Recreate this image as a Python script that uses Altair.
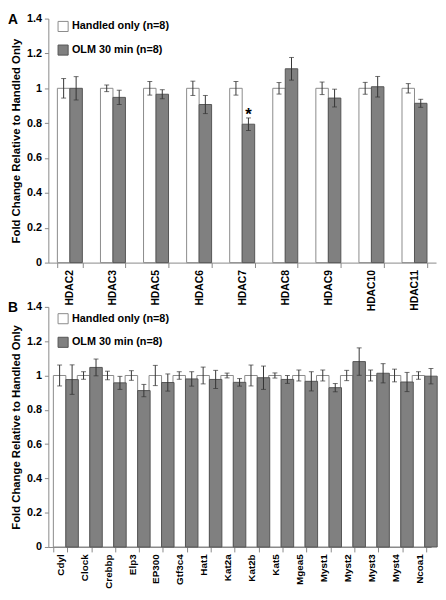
import altair as alt
import pandas as pd

# ---------------- data ----------------
groups = ["Handled only (n=8)", "OLM 30 min (n=8)"]
panel_labels = ["A", "B"]
y_ticks = [0, 0.2, 0.4, 0.6, 0.8, 1.0, 1.2, 1.4]

genes_a = ["HDAC2", "HDAC3", "HDAC5", "HDAC6", "HDAC7", "HDAC8", "HDAC9", "HDAC10", "HDAC11"]
handled_a = [1.0, 1.0, 1.0, 1.0, 1.0, 1.0, 1.0, 1.0, 1.0]
handled_err_a = [0.056, 0.019, 0.039, 0.041, 0.039, 0.033, 0.036, 0.034, 0.027]
olm_a = [1.0, 0.948, 0.966, 0.907, 0.794, 1.112, 0.944, 1.009, 0.914]
olm_err_a = [0.067, 0.041, 0.026, 0.052, 0.036, 0.065, 0.051, 0.059, 0.023]
star_genes_a = ["HDAC7"]

genes_b = ["Cdyl", "Clock", "Crebbp", "Elp3", "EP300", "Gtf3c4", "Hat1", "Kat2a",
           "Kat2b", "Kat5", "Mgea5", "Myst1", "Myst2", "Myst3", "Myst4", "Ncoa1"]
handled_b = [1.0] * 16
handled_err_b = [0.061, 0.022, 0.025, 0.028, 0.059, 0.022, 0.049, 0.014,
                 0.061, 0.015, 0.032, 0.032, 0.030, 0.032, 0.037, 0.022]
olm_b = [0.976, 1.047, 0.957, 0.912, 0.959, 0.980, 0.977, 0.960,
         0.987, 0.977, 0.966, 0.929, 1.081, 1.013, 0.962, 0.996]
olm_err_b = [0.086, 0.049, 0.038, 0.036, 0.050, 0.042, 0.053, 0.022,
             0.068, 0.023, 0.056, 0.024, 0.080, 0.056, 0.056, 0.045]

FONT = "Liberation Sans"


def build_df(genes, hv, he, ov, oe, stars):
    rows = []
    for g, v, e in zip(genes, hv, he):
        rows.append(dict(gene=g, group=groups[0], value=v, lo=v - e, hi=v + e, star=""))
    for g, v, e in zip(genes, ov, oe):
        rows.append(dict(gene=g, group=groups[1], value=v, lo=v - e, hi=v + e,
                         star="*" if g in stars else ""))
    return pd.DataFrame(rows)


def legend(ly):
    return alt.Legend(title=None, orient="none", legendX=9, legendY=ly,
                      symbolType="square", symbolSize=105, symbolStrokeWidth=1,
                      labelFontSize=11, labelFontWeight="bold", labelColor="black",
                      rowPadding=8, labelOffset=3, padding=0, labelFont=FONT)


def panel(df, genes, label, width, height, xfont, ly):
    x = alt.X("gene:N", sort=genes, title=None,
              scale=alt.Scale(paddingInner=0.42, paddingOuter=0.21),
              axis=alt.Axis(labelAngle=-90, labelFontSize=xfont, labelFontWeight="bold",
                            labelColor="black", tickBand="extent", tickSize=5,
                            tickColor="#888888", domainColor="#888888", labelPadding=2))
    xo = alt.XOffset("group:N", sort=groups, scale=alt.Scale(paddingInner=0, paddingOuter=0))
    y_axis = alt.Axis(values=y_ticks, format=".1~f", labelOverlap=False,
                      title="Fold Change Relative to Handled Only", titleFontSize=11.5,
                      titleFontWeight="bold", titleColor="black", titlePadding=5,
                      labelFontSize=11, labelFontWeight="bold", labelColor="black",
                      grid=False, tickSize=4, tickColor="#888888", domainColor="#888888",
                      labelPadding=3)
    ysc = alt.Scale(domain=[0, 1.4], nice=False)

    def Y(field):
        return alt.Y(field, scale=ysc, axis=y_axis)

    base = alt.Chart(df)
    bars = base.mark_bar(strokeWidth=1).encode(
        x=x, xOffset=xo, y=Y("value:Q"),
        fill=alt.Fill("group:N", sort=groups,
                      scale=alt.Scale(domain=groups, range=["#ffffff", "#808080"]),
                      legend=legend(ly)),
        stroke=alt.Stroke("group:N", sort=groups,
                          scale=alt.Scale(domain=groups, range=["#8a8a8a", "#555555"]),
                          legend=legend(ly)),
    )
    rules = base.mark_rule(color="#333333", strokeWidth=1).encode(
        x=x, xOffset=xo, y=Y("lo:Q"), y2="hi:Q")
    caps_lo = base.mark_tick(color="#333333", thickness=1, size=5).encode(
        x=x, xOffset=xo, y=Y("lo:Q"))
    caps_hi = base.mark_tick(color="#333333", thickness=1, size=5).encode(
        x=x, xOffset=xo, y=Y("hi:Q"))
    star = base.transform_filter(alt.datum.star != "").mark_text(
        fontSize=17, fontWeight="bold", baseline="alphabetic", dy=2, color="black"
    ).encode(x=x, xOffset=xo, y=Y("hi:Q"), text="star:N")
    lab = alt.Chart(pd.DataFrame({"t": [label]})).mark_text(
        fontSize=14, fontWeight="bold", align="left", baseline="middle", color="black"
    ).encode(text="t:N", x=alt.value(-41), y=alt.value(1))
    return alt.layer(bars, rules, caps_lo, caps_hi, star, lab).properties(
        width=width, height=height
    ).resolve_scale(fill="independent", stroke="independent")


df_a = build_df(genes_a, handled_a, handled_err_a, olm_a, olm_err_a, star_genes_a)
df_b = build_df(genes_b, handled_b, handled_err_b, olm_b, olm_err_b, [])

pa = panel(df_a, genes_a, panel_labels[0], 394, 248, 10.5, 2)
pb = panel(df_b, genes_b, panel_labels[1], 389, 244, 10, 6)

chart = alt.vconcat(pa, pb, spacing=45, bounds="flush").resolve_scale(
    fill="independent", stroke="independent", x="independent", y="independent"
).resolve_legend(fill="independent", stroke="independent").properties(
    padding=0
).configure(font=FONT).configure_view(stroke=None)

chart.save("out.html", embed_options={"renderer": "svg", "actions": False})
